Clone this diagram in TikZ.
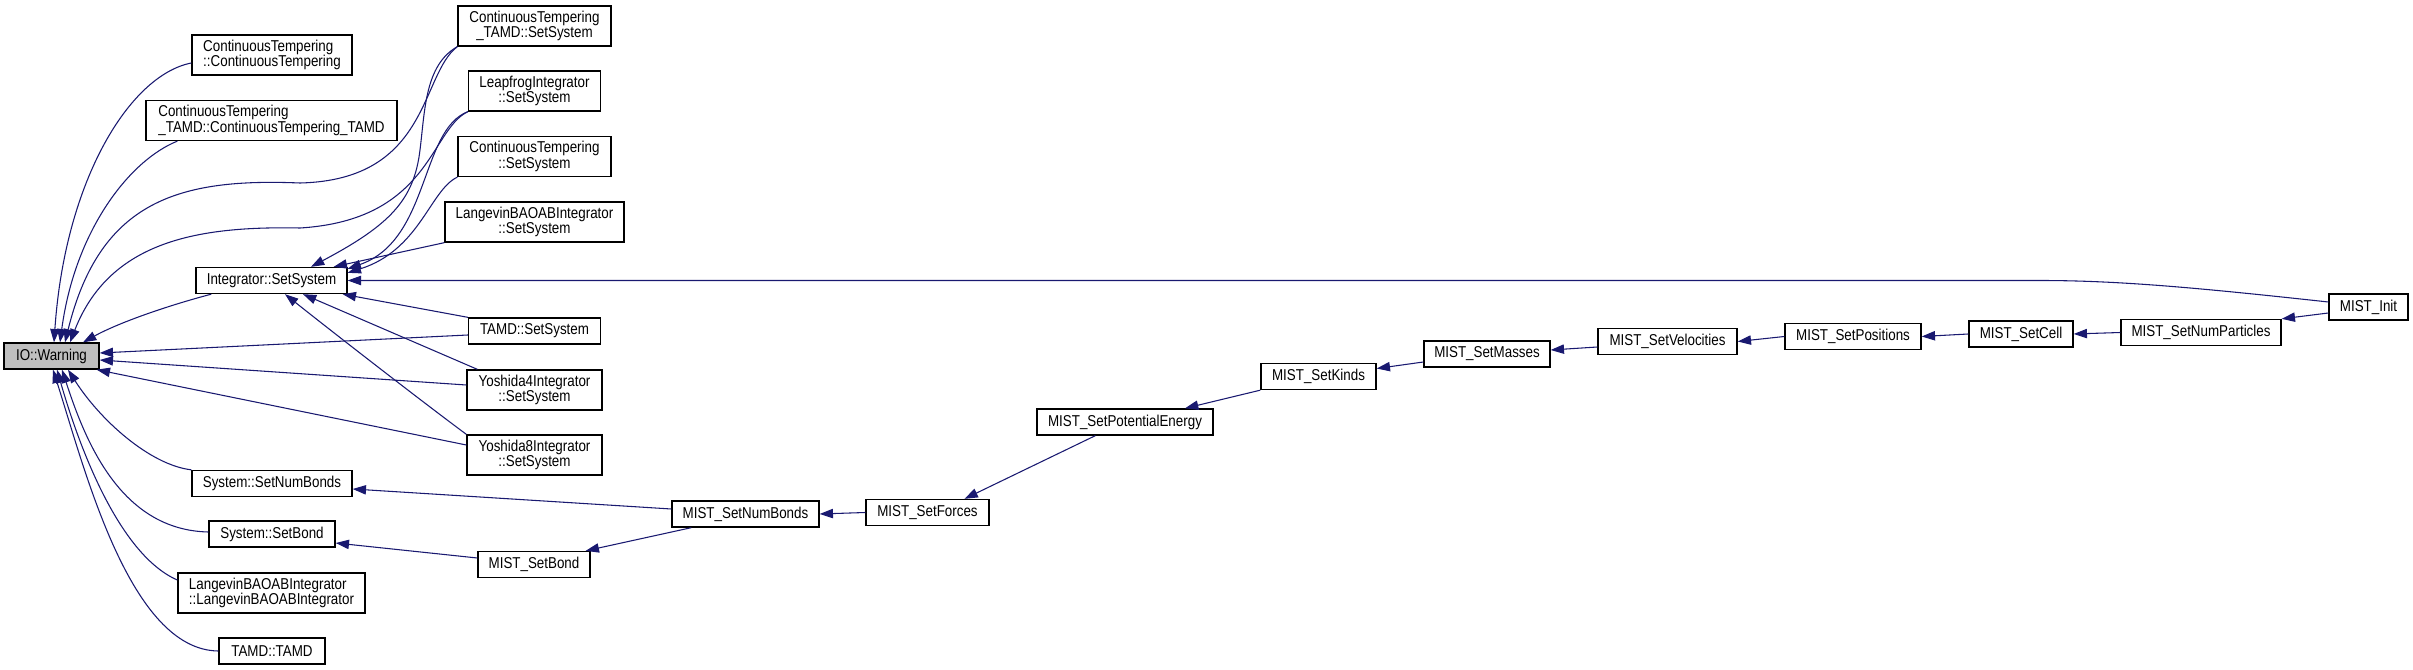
\documentclass[tikz,border=0pt]{standalone}
\usepackage{fontspec}
\setmainfont{Liberation Sans}[FakeStretch=0.85]
\usetikzlibrary{arrows.meta,calc}
\definecolor{edgecol}{HTML}{191970}
\definecolor{warnfill}{HTML}{BFBFBF}
\newcommand\dxfont{\fontsize{11.8}{11.4}\selectfont}
\begin{document}
\begin{tikzpicture}[x=0.75pt,y=-0.75pt,
  box/.style 2 args={draw=black, line width=1pt, inner sep=0pt, minimum width={#1*0.75pt}, minimum height={#2*0.75pt}, font=\dxfont, align=center, text=black},
  ed/.style={draw=edgecol, line width=0.8pt, -{Triangle[length=10pt,width=7pt]}}]
\useasboundingbox (0,0) rectangle (2413,670);
% nodes
\node[box={95}{26},fill=warnfill] (warn) at (51.5,356) {IO::Warning};
\node[box={160}{40},align=left] (ctct) at (272,55) {ContinuousTempering\\::ContinuousTempering};
\node[box={251}{40},align=left] (ctctt) at (271.5,120.5) {ContinuousTempering\\\_TAMD::ContinuousTempering\_TAMD};
\node[box={153}{40}] (cttss) at (534.5,26) {ContinuousTempering\\\_TAMD::SetSystem};
\node[box={132}{40}] (lfss) at (534.5,91) {LeapfrogIntegrator\\::SetSystem};
\node[box={153}{40}] (ctss) at (534.5,156.5) {ContinuousTempering\\::SetSystem};
\node[box={179}{40}] (lbss) at (534.5,222) {LangevinBAOABIntegrator\\::SetSystem};
\node[box={151}{26}] (intss) at (271.5,280.5) {Integrator::SetSystem};
\node[box={132}{26}] (tamdss) at (534.5,331) {TAMD::SetSystem};
\node[box={135}{40}] (yo4) at (534.5,390) {Yoshida4Integrator\\::SetSystem};
\node[box={135}{40}] (yo8) at (534.5,455) {Yoshida8Integrator\\::SetSystem};
\node[box={160}{26}] (ssnb) at (272,483.5) {System::SetNumBonds};
\node[box={126}{26}] (ssb) at (272,534) {System::SetBond};
\node[box={187}{40},align=left] (lbl) at (271.5,593) {LangevinBAOABIntegrator\\::LangevinBAOABIntegrator};
\node[box={106}{26}] (tamd) at (272,651) {TAMD::TAMD};
\node[box={112}{26}] (msb) at (534,564.5) {MIST\_SetBond};
\node[box={147}{26}] (msnb) at (745.5,514) {MIST\_SetNumBonds};
\node[box={123}{26}] (msf) at (927.5,512.5) {MIST\_SetForces};
\node[box={176}{26}] (mspe) at (1125,422) {MIST\_SetPotentialEnergy};
\node[box={115}{26}] (msk) at (1318.5,376.5) {MIST\_SetKinds};
\node[box={126}{26}] (msm) at (1487,354) {MIST\_SetMasses};
\node[box={139}{26}] (msv) at (1667.5,341.5) {MIST\_SetVelocities};
\node[box={136}{26}] (msp) at (1853,336.5) {MIST\_SetPositions};
\node[box={104}{26}] (msc) at (2021,334) {MIST\_SetCell};
\node[box={160}{26}] (msnp) at (2201,332.5) {MIST\_SetNumParticles};
\node[box={79}{26}] (mi) at (2368.5,307) {MIST\_Init};
% edges to IO::Warning
\draw[ed] ($(ctct.west)+(0,8)$) .. controls (130,75) and (65,180) .. ($(warn.north)+(2.5,0)$);
\draw[ed] ($(ctctt.south west)+(32,0)$) .. controls (130,160) and (75,230) .. ($(warn.north)+(8.5,0)$);
\draw[ed] (cttss.south west) .. controls (420,75) and (430,180) .. (300,183) .. controls (180,178) and (100,200) .. ($(warn.north)+(13.5,0)$);
\draw[ed] (lfss.south west) .. controls (430,130) and (430,220) .. (300,228) .. controls (200,226) and (110,240) .. ($(warn.north)+(18.5,0)$);
\draw[ed] ($(intss.south west)+(16,0)$) .. controls (170,305) and (120,322) .. ($(warn.north)+(31.5,0)$);
\draw[ed] ($(tamdss.west)+(0,4)$) -- ($(warn.east)+(0,-3)$);
\draw[ed] ($(yo4.west)+(0,-5)$) -- ($(warn.east)+(0,4)$);
\draw[ed] ($(yo8.west)+(0,-10)$) -- ($(warn.south east)+(-3,0)$);
\draw[ed] (ssnb.north west) .. controls (150,465) and (100,420) .. ($(warn.south)+(16.5,0)$);
\draw[ed] ($(ssb.west)+(0,-2)$) .. controls (120,530) and (85,440) .. ($(warn.south)+(10.5,0)$);
\draw[ed] ($(lbl.west)+(0,-13)$) .. controls (120,555) and (80,450) .. ($(warn.south)+(5.5,0)$);
\draw[ed] (tamd.west) .. controls (130,650) and (85,470) .. ($(warn.south)+(1.5,0)$);
% edges to Integrator::SetSystem
\draw[ed] (cttss.south west) .. controls (425,65) and (425,110) .. (420,150) .. controls (414,200) and (390,225) .. ($(intss.north)+(39.5,0)$);
\draw[ed] (lfss.south west) .. controls (420,130) and (430,240) .. ($(intss.north east)+(0,2)$);
\draw[ed] (ctss.south west) .. controls (430,190) and (420,250) .. ($(intss.north east)+(0,6)$);
\draw[ed] (lbss.south west) -- ($(intss.north east)+(-14,0)$);
\draw[ed] ($(mi.west)+(0,-5)$) .. controls (2200,288) and (2120,280.5) .. (2040,280.5) -- (intss.east);
\draw[ed] (tamdss.north west) -- ($(intss.south east)+(-5,0)$);
\draw[ed] ($(yo4.north west)+(11,0)$) -- ($(intss.south)+(31.5,0)$);
\draw[ed] (yo8.north west) .. controls (420,400) and (330,330) .. ($(intss.south)+(13.5,0)$);
% chain
\draw[ed] ($(msnb.west)+(0,-5)$) -- ($(ssnb.east)+(0,5.5)$);
\draw[ed] ($(msb.west)+(0,-6.5)$) -- ($(ssb.east)+(0,9)$);
\draw[ed] ($(msnb.south west)+(20,0)$) -- ($(msb.north east)+(-5,0)$);
\draw[ed] (msf.west) -- (msnb.east);
\draw[ed] ($(mspe.south west)+(59,0)$) -- ($(msf.north)+(37,0)$);
\draw[ed] (msk.south west) -- ($(mspe.north)+(60,0)$);
\draw[ed] ($(msm.west)+(0,8)$) -- ($(msk.east)+(0,-8)$);
\draw[ed] ($(msv.west)+(0,5.5)$) -- ($(msm.east)+(0,-4)$);
\draw[ed] (msp.west) -- (msv.east);
\draw[ed] (msc.west) -- (msp.east);
\draw[ed] (msnp.west) -- (msc.east);
\draw[ed] ($(mi.west)+(0,6)$) -- (msnp.north east);
\end{tikzpicture}
\end{document}
